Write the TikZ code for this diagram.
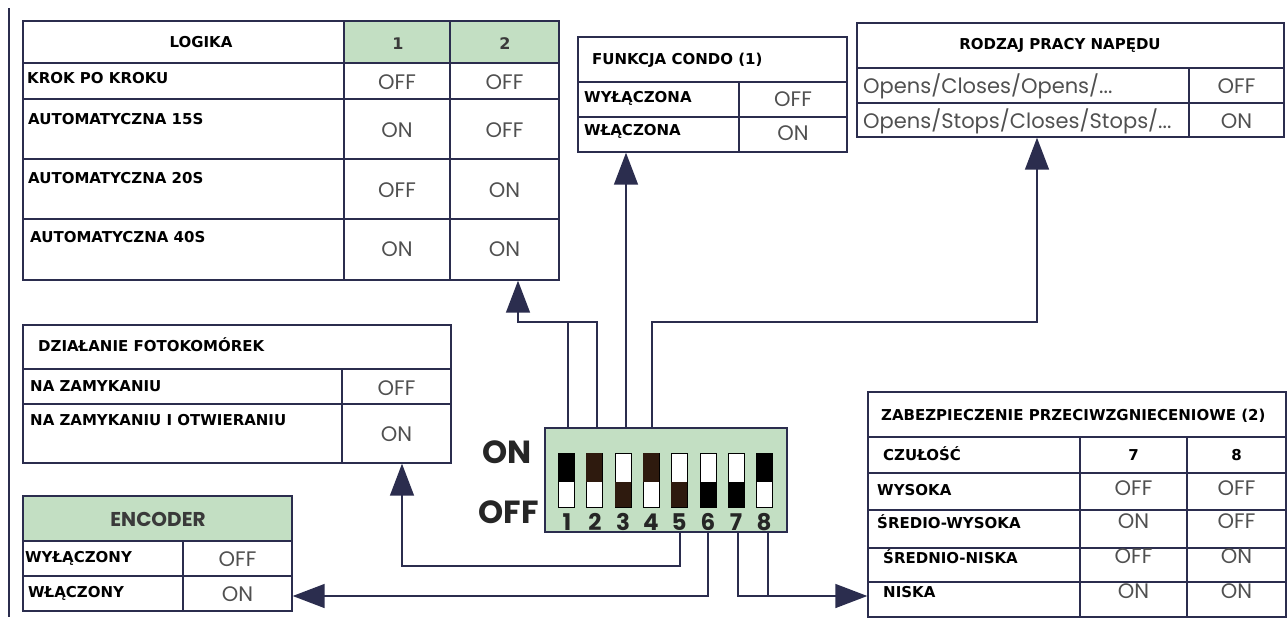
\documentclass[tikz,border=0pt]{standalone}
\usepackage{fontspec}
\setmainfont{DejaVu Sans}
\newfontfamily\valfont{Poppins}
\usepackage{tikz}
\usetikzlibrary{arrows.meta}
\usetikzlibrary{fit}
\usetikzlibrary{positioning}
\usepackage{xcolor}
\definecolor{wire}{HTML}{2B2D4E}
\definecolor{tabgreen}{HTML}{C3DFC3}
\definecolor{valgray}{HTML}{505050}
\definecolor{numgray}{HTML}{3A3A3A}
\definecolor{knobbrown}{HTML}{2E1A0E}
\tikzset{
  tbl/.style={draw=wire, line width=1.4pt, inner sep=0pt},
  gridline/.style={draw=wire, line width=1.4pt},
  lbl/.style={font=\fontsize{15}{18}\selectfont\bfseries, inner sep=0pt, anchor=base west},
  hdr/.style={lbl, anchor=base},
  val/.style={font=\valfont\fontsize{21}{24}\selectfont, text=valgray, inner sep=0pt, anchor=base},
  txtval/.style={val, anchor=base west},
  diplbl/.style={font=\valfont\bfseries\fontsize{32}{36}\selectfont, text=black!85, inner sep=0pt, anchor=base east},
  dipnum/.style={font=\valfont\bfseries\fontsize{23}{26}\selectfont, text=black!85, inner sep=0pt, anchor=base},
  slot/.style={fill=white, draw=black, line width=0.8pt},
  wirepath/.style={draw=wire, line width=1.5pt},
  arr/.style={wirepath, -{Triangle[length=32pt,width=24pt]}},
}
\begin{document}
\begin{tikzpicture}[x=1pt,y=-1pt]
\useasboundingbox (0,0) rectangle (1288,619);
\draw[wirepath] (9,8) -- (9,617);

% LOGIKA
\fill[tabgreen] (344,21) rectangle (559,63);
\node[tbl, fit={(23,21) (559,280)}] (logika) {};
\draw[gridline] (23,63) -- (559,63) (23,99) -- (559,99) (23,159) -- (559,159) (23,219) -- (559,219);
\draw[gridline] (344,21) -- (344,280) (450,21) -- (450,280);
\node[hdr] (lg-t) at (201,47) {LOGIKA};
\node[hdr, text=numgray, font=\fontsize{16}{18}\selectfont\bfseries] (lg-c1) at (398,49) {1};
\node[hdr, text=numgray, font=\fontsize{16}{18}\selectfont\bfseries] (lg-c2) at (505,49) {2};
\node[lbl] (lg-r1) at (27,83) {KROK PO KROKU};
\node[lbl] (lg-r2) at (28,124) {AUTOMATYCZNA 15S};
\node[lbl] (lg-r3) at (28,183) {AUTOMATYCZNA 20S};
\node[lbl] (lg-r4) at (30,242) {AUTOMATYCZNA 40S};
\node[val] (lg-a1) at (397,89) {OFF};
\node[val] (lg-b1) at (504.5,89) {OFF};
\node[val] (lg-a2) at (397,137) {ON};
\node[val] (lg-b2) at (504.5,137) {OFF};
\node[val] (lg-a3) at (397,197) {OFF};
\node[val] (lg-b3) at (504.5,197) {ON};
\node[val] (lg-a4) at (397,256) {ON};
\node[val] (lg-b4) at (504.5,256) {ON};

% FUNKCJA CONDO
\node[tbl, fit={(578,37) (847,152)}] (condo) {};
\draw[gridline] (578,82) -- (847,82) (578,117) -- (847,117) (739,82) -- (739,152);
\node[lbl] (cd-t) at (592,64) {FUNKCJA CONDO (1)};
\node[lbl] (cd-r1) at (584,102) {WYŁĄCZONA};
\node[lbl] (cd-r2) at (584,135) {WŁĄCZONA};
\node[val] (cd-a1) at (793,106) {OFF};
\node[val] (cd-a2) at (793,140) {ON};

% RODZAJ PRACY
\node[tbl, fit={(857,23) (1284,137)}] (rodzaj) {};
\draw[gridline] (857,68) -- (1284,68) (857,103) -- (1284,103) (1189,68) -- (1189,137);
\node[hdr] (rp-t) at (1060,49) {RODZAJ PRACY NAPĘDU};
\node[txtval] (rp-r1) at (863,93) {Opens/Closes/Opens/...};
\node[txtval] (rp-r2) at (863,128) {Opens/Stops/Closes/Stops/...};
\node[val] (rp-a1) at (1236.5,93) {OFF};
\node[val] (rp-a2) at (1236.5,128) {ON};

% FOTOKOMORKI
\node[tbl, fit={(23,325) (451,463)}] (dzialanie) {};
\draw[gridline] (23,369) -- (451,369) (23,404) -- (451,404) (342,369) -- (342,463);
\node[lbl] (fk-t) at (38,351) {DZIAŁANIE FOTOKOMÓREK};
\node[lbl] (fk-r1) at (30,391) {NA ZAMYKANIU};
\node[lbl] (fk-r2) at (30,425) {NA ZAMYKANIU I OTWIERANIU};
\node[val] (fk-a1) at (396.5,395) {OFF};
\node[val] (fk-a2) at (396.5,441) {ON};

% ENCODER
\fill[tabgreen] (23,496) rectangle (292,541);
\node[tbl, fit={(23,496) (292,611)}] (encoder) {};
\draw[gridline] (23,541) -- (292,541) (23,576) -- (292,576) (183,541) -- (183,611);
\node[val, font=\valfont\bfseries\fontsize{20}{24}\selectfont, text=numgray] (en-t) at (158,526) {ENCODER};
\node[lbl] (en-r1) at (25,562) {WYŁĄCZONY};
\node[lbl] (en-r2) at (28,597) {WŁĄCZONY};
\node[val] (en-a1) at (237.5,566) {OFF};
\node[val] (en-a2) at (237.5,601) {ON};

% ZABEZPIECZENIE
\node[tbl, fit={(868,392) (1286,617)}] (zabez) {};
\draw[gridline] (868,437) -- (1286,437) (868,473) -- (1286,473) (868,510) -- (1286,510) (868,548) -- (1286,548) (868,582) -- (1286,582);
\draw[gridline] (1080,437) -- (1080,617) (1187,437) -- (1187,617);
\node[lbl] (zb-t) at (881,420) {ZABEZPIECZENIE PRZECIWZGNIECENIOWE (2)};
\node[lbl] (zb-r0) at (883,460) {CZUŁOŚĆ};
\node[hdr] (zb-c7) at (1133.5,460) {7};
\node[hdr] (zb-c8) at (1236.5,460) {8};
\node[lbl] (zb-r1) at (877,495) {WYSOKA};
\node[lbl] (zb-r2) at (877,528) {ŚREDIO-WYSOKA};
\node[lbl] (zb-r3) at (883,563) {ŚREDNIO-NISKA};
\node[lbl] (zb-r4) at (883,597) {NISKA};
\node[val] (zb-a1) at (1133.5,495) {OFF};
\node[val] (zb-b1) at (1236.5,495) {OFF};
\node[val] (zb-a2) at (1133.5,528) {ON};
\node[val] (zb-b2) at (1236.5,528) {OFF};
\node[val] (zb-a3) at (1133.5,563) {OFF};
\node[val] (zb-b3) at (1236.5,563) {ON};
\node[val] (zb-a4) at (1133.5,598) {ON};
\node[val] (zb-b4) at (1236.5,598) {ON};

% DIP switch
\node[fit={(545,428) (787,532)}, fill=tabgreen, draw=wire, line width=1.2pt, inner sep=0pt] (dip) {};
\node[diplbl] (dip-on) at (532,463) {ON};
\node[diplbl] (dip-off) at (539,523) {OFF};
\draw[slot] (558,453) rectangle (574,507);
\fill[black] (558,453) rectangle (574,482);
\draw[slot] (586,453) rectangle (602,507);
\fill[knobbrown] (586,453) rectangle (602,482);
\draw[slot] (615,453) rectangle (631,507);
\fill[knobbrown] (615,482) rectangle (631,507);
\draw[slot] (643,453) rectangle (659,507);
\fill[knobbrown] (643,453) rectangle (659,482);
\draw[slot] (671,453) rectangle (687,507);
\fill[knobbrown] (671,482) rectangle (687,507);
\draw[slot] (700,453) rectangle (716,507);
\fill[black] (700,482) rectangle (716,507);
\draw[slot] (728,453) rectangle (744,507);
\fill[black] (728,482) rectangle (744,507);
\draw[slot] (756,453) rectangle (772,507);
\fill[black] (756,453) rectangle (772,482);
\node[dipnum] (sw1) at (567,530) {1};
\node[dipnum] (sw2) at (595,530) {2};
\node[dipnum] (sw3) at (623,530) {3};
\node[dipnum] (sw4) at (651,530) {4};
\node[dipnum] (sw5) at (679,530) {5};
\node[dipnum] (sw6) at (708,530) {6};
\node[dipnum] (sw7) at (736,530) {7};
\node[dipnum] (sw8) at (764,530) {8};

% connectors
\coordinate (p1) at (568,428);
\coordinate (p2) at (597,428);
\coordinate (p3) at (626,428);
\coordinate (p4) at (652,428);
\coordinate (p5) at (680,532);
\coordinate (p6) at (708,532);
\coordinate (p7) at (738,532);
\coordinate (p8) at (768,532);
\coordinate (j12) at (518,322);
\coordinate (j4) at (1037,322);
\coordinate (j5) at (402,566);
\coordinate (j78) at (768,596);
\draw[wirepath] (p1) -- (p1 |- j12);
\draw[arr] (p2) |- (j12) -- (j12 |- logika.south);
\draw[arr] (p3) -- (p3 |- condo.south);
\draw[arr] (p4) |- (j4) -- (j4 |- rodzaj.south);
\draw[arr] (p5) |- (j5) -- (j5 |- dzialanie.south);
\draw[arr] (p6) |- (encoder.east |- j78);
\draw[arr] (p7) |- (zabez.west |- j78);
\draw[wirepath] (p8) -- (j78);
\end{tikzpicture}
\end{document}
